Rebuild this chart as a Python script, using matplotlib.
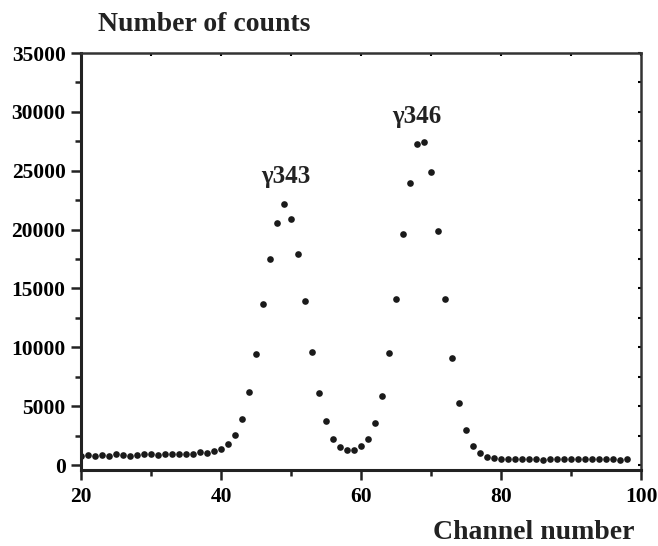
import matplotlib.pyplot as plt
import numpy as np
from matplotlib.ticker import MultipleLocator

plt.rcParams['font.family'] = ['Liberation Serif', 'DejaVu Serif']
plt.rcParams['font.weight'] = 'bold'

# Channel numbers and counts
channel = np.arange(20, 99)
counts = [
    800, 840, 790, 840, 810, 900, 880, 790, 880, 910,          # 20-29
    920, 890, 940, 900, 960, 970, 960, 1070, 1010, 1220,       # 30-39
    1400, 1750, 2520, 3900, 6200, 9450, 13700, 17500, 20550, 22150,   # 40-49
    20900, 17900, 13900, 9600, 6150, 3700, 2250, 1550, 1250, 1300,    # 50-59
    1620, 2200, 3600, 5850, 9480, 14100, 19600, 24000, 27300, 27450,  # 60-69
    24900, 19850, 14100, 9100, 5300, 3000, 1600, 1030, 710, 600,      # 70-79
    490, 480, 490, 480, 490, 480, 470, 490, 480, 490,          # 80-89
    480, 490, 480, 490, 480, 490, 480, 470, 480,               # 90-98
]

# peak labels and where they sit (channel, counts at baseline)
peak_labels = ["\u03b3343", "\u03b3346"]
label_x = [49.3, 68.0]
label_y = [24000, 29050]

fig = plt.figure(figsize=(6.58, 5.46), dpi=100)
ax = fig.add_axes([0.1231, 0.1392, 0.8511, 0.7637])

ax.plot(channel, counts, 'o', color='#1a1a1a', ms=4.8, mec='none')

ax.set_xlim(20, 100)
ax.set_ylim(-420, 35000)
ax.xaxis.set_major_locator(MultipleLocator(20))
ax.xaxis.set_minor_locator(MultipleLocator(10))
ax.yaxis.set_major_locator(MultipleLocator(5000))
ax.yaxis.set_minor_locator(MultipleLocator(2500))

ax.tick_params(which='both', direction='out', top=False, right=False,
               width=1.8, color='#222222', labelsize=15.5, pad=4)
ax.tick_params(which='major', length=7)
ax.tick_params(which='minor', length=4.3)
ax.tick_params(axis='x', pad=5)

# small inward ticks on top and right
sec_x = ax.secondary_xaxis('top')
sec_x.xaxis.set_major_locator(MultipleLocator(10))
sec_x.tick_params(direction='in', length=2, width=1.5, labeltop=False)
sec_y = ax.secondary_yaxis('right')
sec_y.yaxis.set_major_locator(MultipleLocator(2500))
sec_y.tick_params(direction='in', length=2, width=1.5, labelright=False)

for side in ['left', 'bottom']:
    ax.spines[side].set_linewidth(2.2)
    ax.spines[side].set_color('#222222')
for side in ['top', 'right']:
    ax.spines[side].set_linewidth(1.8)
    ax.spines[side].set_color('#333333')
sec_x.spines['top'].set_visible(False)
sec_y.spines['right'].set_visible(False)

for lbl, x, y in zip(peak_labels, label_x, label_y):
    ax.text(x, y, lbl, ha='center', va='baseline', fontsize=18,
            fontweight='bold', color='#222222')

fig.text(0.149, 0.956, "Number of counts", fontsize=20, fontweight='bold',
         ha='left', va='center', color='#222222')
fig.text(0.965, 0.025, "Channel number", fontsize=20, fontweight='bold',
         ha='right', va='center', color='#222222')

fig.savefig('out.png', dpi=100)
